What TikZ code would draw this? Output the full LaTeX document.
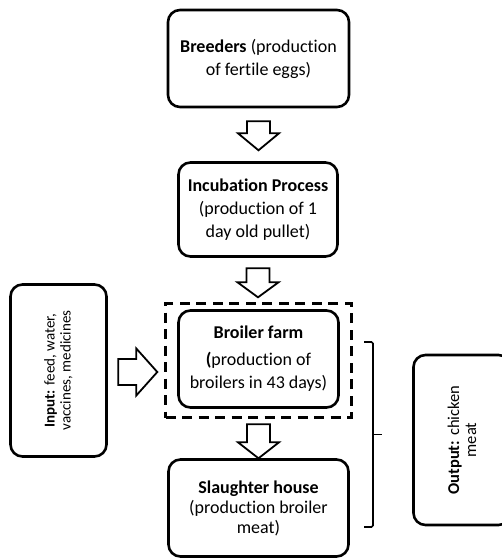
\documentclass[tikz,border=0pt]{standalone}
\usepackage{fontspec}
\setmainfont{Carlito}[Ligatures=NoCommon]
\usetikzlibrary{calc}

\begin{document}
\begin{tikzpicture}[
    x=1pt, y=1pt,
    every node/.style={align=center, font=\fontsize{18}{23}\selectfont},
    stage/.style={draw, line width=2.6pt, rounded corners=12pt, inner sep=0pt},
    side/.style={stage, rotate=90},
    frame/.style={draw, line width=2.6pt, dash pattern=on 10pt off 6.5pt},
    hollow/.style={draw, line width=1.8pt, fill=white, line join=miter},
    brace/.style={line width=1.6pt, rounded corners=1.5pt},
    % hollow block arrow pointing down: shaft half width / head half width / head start / tip
    pics/fatdown/.style args={#1/#2/#3/#4}{code={
        \draw[hollow] (-#1,0) -- (#1,0) -- (#1,-#3) -- (#2,-#3) -- (0,-#4)
            -- (-#2,-#3) -- (-#1,-#3) -- cycle;
    }}
]
  \useasboundingbox (0,0) rectangle (502,-558);

  % Production chain
  \node[stage, minimum width=181pt, minimum height=97pt] (breed) at (258.5,-58.5)
    {\textbf{Breeders} (production\\of fertile eggs)};
  \node[stage, minimum width=159pt, minimum height=94pt] (incub) at (258,-209.5)
    {\textbf{Incubation Process}\\(production of 1\\day old pullet)};
  \node[stage, minimum width=160pt, minimum height=97pt] (farm) at (258.5,-359)
    {\textbf{Broiler farm}\\[4pt]\textbf{(}production of\\broilers in 43 days)};
  \node[frame, minimum width=186pt, minimum height=114pt] (frame) at (258.5,-360.5) {};
  \node[stage, minimum width=180pt, minimum height=97pt,
        font=\fontsize{18}{20}\selectfont] (slaught) at (258.5,-508)
    {\textbf{Slaughter house}\\(production broiler\\meat)};

  % Input and output boxes (text runs upwards)
  \node[side, minimum width=172pt, minimum height=96pt,
        font=\fontsize{15}{16}\selectfont] (input) at (58.5,-370.5)
    {\textbf{Input:} feed, water,\\vaccines, medicines};
  \node[side, minimum width=170pt, minimum height=97pt,
        font=\fontsize{16.5}{17}\selectfont] (output) at (462,-440)
    {\textbf{Output:} chicken\\meat};

  % Block arrows between the stages
  \path (breed.south) ++(0,-13) pic {fatdown=11.5/20.5/12/29};
  \path (incub.south) ++(0,-10.5) pic {fatdown=11.5/20.5/14/29};
  \path (frame.south) ++(0,-5.5) pic {fatdown=11.5/20.5/18/34};
  % input.south is the right side of the turned box
  \path (input.south) ++(10.5,-1.5) pic[rotate=90] {fatdown=13/23.5/18/39};

  % Bracket round the farm and the slaughter house
  \coordinate (bt) at (373,-342);
  \coordinate (bb) at (373,-527);
  \draw[brace] ([xshift=-9pt]bt) -- (bt) -- (bb) -- ([xshift=-9pt]bb);
  \draw[brace] ($(bt)!0.5!(bb)$) -- ++(9,0);
\end{tikzpicture}
\end{document}
